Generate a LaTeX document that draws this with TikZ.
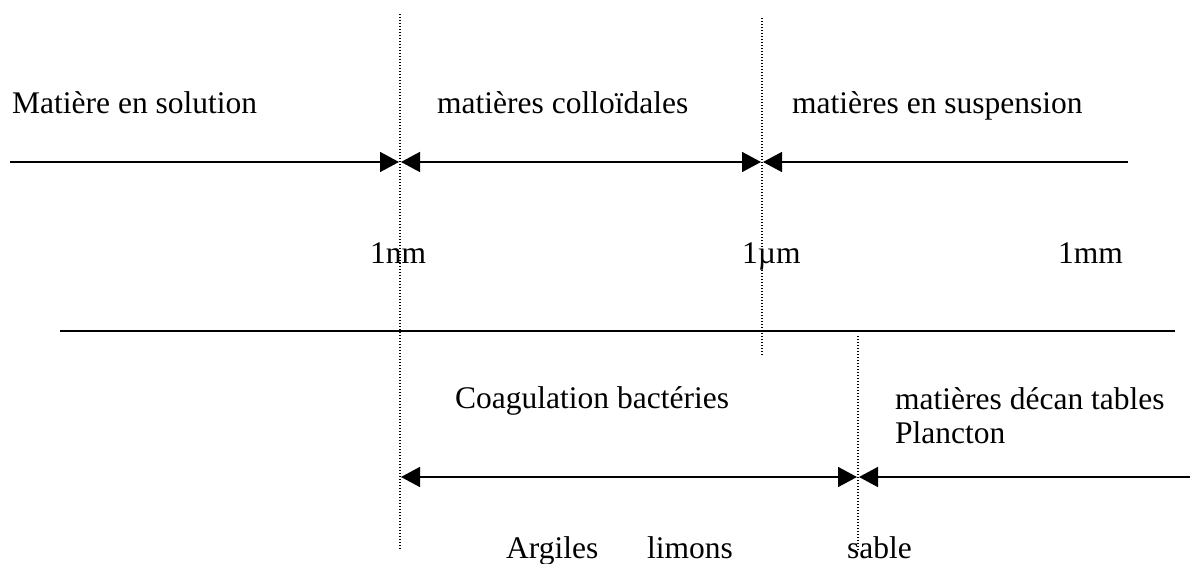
\documentclass[tikz,border=0pt]{standalone}
\usepackage{fontspec}
\setmainfont{Liberation Serif}
\usetikzlibrary{arrows.meta, positioning}

\begin{document}
\begin{tikzpicture}[
    x=1pt, y=-1pt,
    >={Triangle[length=19pt, width=20pt]},
    lbl/.style={anchor=base west, inner sep=0pt,
                font=\fontsize{31.5}{36}\selectfont},
    scaleline/.style={line width=1.5pt},
    guide/.style={line width=1.3pt, dash pattern=on 1.3pt off 1.7pt},
]
\useasboundingbox (0,0) rectangle (1190,564);

% ---- Boundary guides (dotted) ----
\coordinate (nmtop)  at (400,14);
\coordinate (nmbot)  at (400,550);
\coordinate (umtop)  at (762,18);
\coordinate (umbot)  at (762,356);
\coordinate (sbtop)  at (858,336);
\coordinate (sbbot)  at (858,550);
\draw[guide] (nmtop) -- (nmbot);
\draw[guide] (umtop) -- (umbot);
\draw[guide] (sbtop) -- (sbbot);

% ---- Upper scale ----
\node[lbl] (sol)  at (12,114)  {Matière en solution};
\node[lbl] (col)  at (437,114) {matières colloïdales};
\node[lbl] (susp) at (792,114) {matières en suspension};

\coordinate (u0)  at (10,162);
\coordinate (u1a) at (399,162);
\coordinate (u1b) at (401,162);
\coordinate (u2a) at (761,162);
\coordinate (u2b) at (763,162);
\coordinate (u3)  at (1128,162);
\draw[scaleline, ->]  (u0)  -- (u1a);
\draw[scaleline, <->] (u1b) -- (u2a);
\draw[scaleline, <-]  (u2b) -- (u3);

% ---- Size marks ----
\node[lbl] (nm) at (370,263)  {1nm};
\node[lbl] (um) at (742,263)  {1µm};
\node[lbl] (mm) at (1058,263) {1mm};

% ---- Separator ----
\coordinate (sepl) at (60,331);
\coordinate (sepr) at (1175,331);
\draw[scaleline] (sepl) -- (sepr);

% ---- Lower scale ----
\node[lbl] (coag) at (455,408) {Coagulation bactéries};
\node[lbl] (dec)  at (895,409) {matières décan tables};
\node[lbl] (plan) at (895,443) {Plancton};

\coordinate (l1)  at (401,477);
\coordinate (l2a) at (857,477);
\coordinate (l2b) at (859,477);
\coordinate (l3)  at (1190,477);
\draw[scaleline, <->] (l1)  -- (l2a);
\draw[scaleline, <-]  (l2b) -- (l3);

\node[lbl] (arg) at (506,558) {Argiles};
\node[lbl] (lim) at (647,558) {limons};
\node[lbl] (sab) at (847,558) {sable};

\end{tikzpicture}
\end{document}
